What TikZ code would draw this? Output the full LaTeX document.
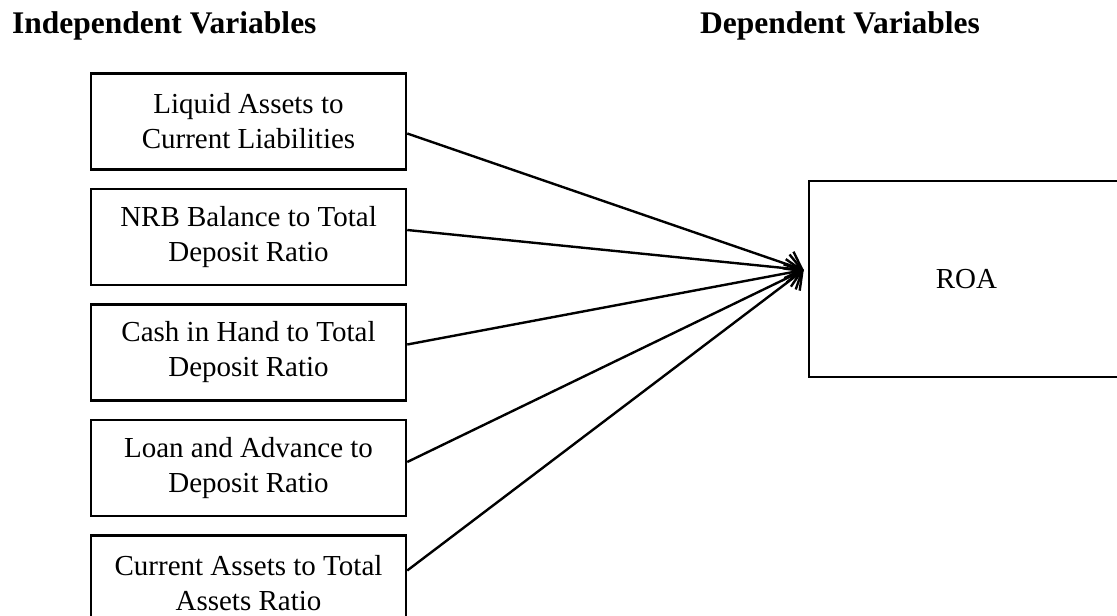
\documentclass[tikz,border=0pt]{standalone}
\usepackage{fontspec}
\setmainfont{Liberation Serif}
\usepackage{tikz}
\usetikzlibrary{arrows.meta,positioning}

\begin{document}
\begin{tikzpicture}[
    x=1pt, y=1pt,
    font=\fontsize{29}{35}\selectfont,
    node distance=0mm,
    heading/.style={font=\fontsize{31.5}{36}\selectfont\bfseries, inner sep=0pt, anchor=base west},
    varbox/.style={draw, line width=2.5pt, minimum width=315pt, minimum height=96pt, align=center, inner sep=2pt},
    link/.style={-{Straight Barb[length=14pt, width=28pt, line width=2.4pt]}, line width=2.4pt}
]
\useasboundingbox (0,0) rectangle (1117,-616);
\begin{scope}
\clip (0,0) rectangle (1117,-616);

\node[heading] (indep) at (12,-33) {Independent Variables};
\node[heading] (dep) at (700,-33) {Dependent Variables};

\node[varbox] (b1) at (248.5,-121.5) {Liquid Assets to\\Current Liabilities};
\node[varbox, below=17pt of b1] (b2) {NRB Balance to Total\\Deposit Ratio};
\node[varbox, below=17pt of b2] (b3) {Cash in Hand to Total\\Deposit Ratio};
\node[varbox, below=17pt of b3] (b4) {Loan and Advance to\\Deposit Ratio};
\node[varbox, below=17pt of b4] (b5) {Current Assets to Total\\Assets Ratio};

\node[varbox, minimum height=196pt] (roa) at (966.5,-279) {ROA};
\coordinate (tip) at ([xshift=-4pt, yshift=9pt]roa.west);

\draw[link] ([yshift=-12pt]b1.east) -- (tip);
\draw[link] ([yshift=7pt]b2.east) -- (tip);
\draw[link] ([yshift=8pt]b3.east) -- (tip);
\draw[link] ([yshift=6pt]b4.east) -- (tip);
\draw[link] ([yshift=13pt]b5.east) -- (tip);
\end{scope}
\end{tikzpicture}
\end{document}
